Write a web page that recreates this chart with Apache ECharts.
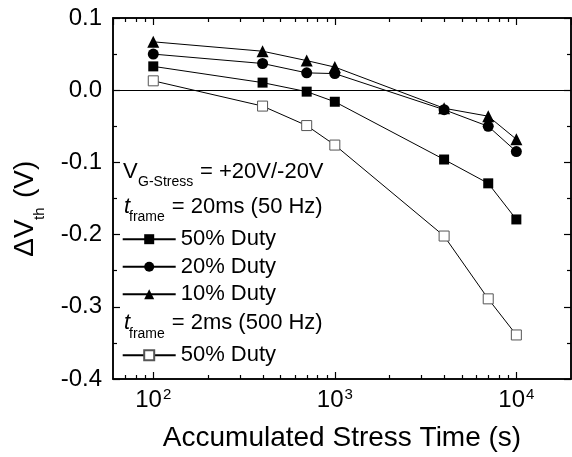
<!DOCTYPE html>
<html><head><meta charset="utf-8">
<script src="https://cdn.jsdelivr.net/npm/echarts@6/dist/echarts.min.js"></script>
<style>html,body{margin:0;padding:0;background:#fff}#c{width:572px;height:457px}</style>
</head><body><div id="c"></div>
<script>
// ---- data ----
const stressTime = [100, 400, 700, 1000, 4000, 7000, 10000];
const duty50_20ms = [0.033, 0.0105, -0.002, -0.016, -0.096, -0.129, -0.179];
const duty20_20ms = [0.050, 0.037, 0.024, 0.023, -0.027, -0.050, -0.085];
const duty10_20ms = [0.067, 0.054, 0.041, 0.032, -0.025, -0.036, -0.068];
const duty50_2ms  = [0.013, -0.022, -0.049, -0.076, -0.202, -0.289, -0.339];
const seriesNames = ['50% Duty (20ms)', '20% Duty (20ms)', '10% Duty (20ms)', '50% Duty (2ms)'];
const xMinorTicks = [70, 80, 90, 200, 300, 400, 500, 600, 700, 800, 900, 2000, 3000, 4000, 5000, 6000, 7000, 8000, 9000];
const xRange = [60, 20000];
const yRange = [-0.4, 0.1];
const yStep = 0.1;

const FF = "'Liberation Sans', Arial, sans-serif";
const chart = echarts.init(document.getElementById('c'), null, {renderer: 'canvas'});

function pairs(ys) { return stressTime.map((x, i) => [x, ys[i]]); }

const markerDefs = [
  {symbol: 'rect', size: 10, style: {color: '#000'}},
  {symbol: 'circle', size: 11, style: {color: '#000'}},
  {symbol: 'triangle', size: 12, style: {color: '#000'}},
  {symbol: 'rect', size: 10, style: {color: '#fff', borderColor: '#555', borderWidth: 1}}
];
const allData = [duty50_20ms, duty20_20ms, duty10_20ms, duty50_2ms];

const series = allData.map((ys, i) => ({
  name: seriesNames[i],
  type: 'line',
  data: pairs(ys),
  symbol: markerDefs[i].symbol,
  symbolSize: markerDefs[i].size,
  itemStyle: markerDefs[i].style,
  lineStyle: {color: '#000', width: 1},
  z: 3 + i,
  animation: false
}));
series[0].markLine = {
  silent: true, symbol: ['none', 'none'], label: {show: false},
  lineStyle: {color: '#000', type: 'solid', width: 1},
  data: [{yAxis: 0}], animation: false
};

const legendRowY = [240.7, 268.3, 295.7, 356.7];
const legends = seriesNames.map((n, i) => ({
  data: [n], left: 121.7, top: legendRowY[i] - 12.5, padding: 0,
  itemWidth: 53, itemHeight: 12.5, selectedMode: false,
  formatter: s => s.replace(/ \(.*\)$/, ''),
  textStyle: {fontSize: 22, color: '#000', fontFamily: FF}
}));

function xAxisBase(pos) {
  return {
    type: 'log', logBase: 10, min: xRange[0], max: xRange[1], position: pos,
    axisLine: {show: true, onZero: false, lineStyle: {color: '#000', width: 1.5}},
    axisTick: {show: true, inside: true, length: 7, lineStyle: {color: '#000', width: 1.2}},
    splitLine: {show: false}
  };
}
function yAxisBase(pos) {
  return {
    type: 'value', min: yRange[0], max: yRange[1], interval: yStep, position: pos,
    axisLine: {show: true, onZero: false, lineStyle: {color: '#000', width: 1.5}},
    axisTick: {show: true, inside: true, length: 7, lineStyle: {color: '#000', width: 1.2}},
    minorTick: {show: true, splitNumber: 2, length: 4, lineStyle: {color: '#000', width: 1.2}},
    splitLine: {show: false}
  };
}

const xBottom = xAxisBase('bottom');
xBottom.axisLabel = {
  margin: 8, showMinLabel: false, showMaxLabel: false,
  formatter: v => '{b|10}{s|' + Math.round(Math.log10(v)) + '}',
  rich: {
    b: {fontSize: 24, color: '#000', fontFamily: FF},
    s: {fontSize: 15, color: '#000', fontFamily: FF, verticalAlign: 'top', padding: [0, 0, 12, 1]}
  }
};
xBottom.name = 'Accumulated Stress Time (s)';
xBottom.nameLocation = 'middle';
xBottom.nameGap = 45;
xBottom.nameTextStyle = {fontSize: 28, color: '#000', fontFamily: FF};
const xTop = xAxisBase('top');
xTop.axisLabel = {show: false};

const yLeft = yAxisBase('left');
yLeft.axisLabel = {margin: 11, fontSize: 24, color: '#000', fontFamily: FF, formatter: v => v.toFixed(1)};
const yRight = yAxisBase('right');
yRight.axisLabel = {show: false};

const option = {
  animation: false,
  backgroundColor: '#fff',
  grid: {left: 113, right: 1, top: 18, bottom: 74, containLabel: false,
         show: true, borderColor: '#000', borderWidth: 1.5, backgroundColor: 'transparent'},
  legend: legends,
  xAxis: [xBottom, xTop],
  yAxis: [yLeft, yRight],
  series: series
};
chart.setOption(option);

// ---- annotations ----
function T(text, x, y, size, italic) {
  return {type: 'text', x: x, y: y, silent: true, z: 10,
    style: {text: text, fill: '#000', fontSize: size, fontFamily: FF,
      fontStyle: italic ? 'italic' : 'normal', align: 'left', verticalAlign: 'middle'}};
}
const gfx = [
  T('V', 123, 171.7, 22), T('G-Stress', 138, 181.7, 14), T('= +20V/-20V', 200, 171.7, 22),
  T('t', 124, 206.7, 22, true), T('frame', 129, 216.7, 14), T('= 20ms (50 Hz)', 171.7, 206.7, 22),
  T('t', 124, 322.7, 22, true), T('frame', 129, 334, 14), T('= 2ms (500 Hz)', 171.7, 322.7, 22),
  {type: 'group', x: 25, y: 208, rotation: Math.PI / 2, silent: true, children: [
    {type: 'text', x: -48.7, y: 0, style: {text: '\u0394V', fill: '#000', fontSize: 28, fontFamily: FF, align: 'left', verticalAlign: 'middle'}},
    {type: 'text', x: -12, y: 14.6, style: {text: 'th', fill: '#000', fontSize: 15, fontFamily: FF, align: 'left', verticalAlign: 'middle'}},
    {type: 'text', x: 10, y: 0, style: {text: '(V)', fill: '#000', fontSize: 28, fontFamily: FF, align: 'left', verticalAlign: 'middle'}}
  ]}
];
const yBot = chart.convertToPixel({yAxisIndex: 0}, yRange[0]);
const yTop = chart.convertToPixel({yAxisIndex: 0}, yRange[1]);
xMinorTicks.forEach(v => {
  const px = Math.round(chart.convertToPixel({xAxisIndex: 0}, v)) + 0.5;
  gfx.push({type: 'line', silent: true, z: 10, shape: {x1: px, y1: yBot, x2: px, y2: yBot - 4}, style: {stroke: '#000', lineWidth: 1.2}});
  gfx.push({type: 'line', silent: true, z: 10, shape: {x1: px, y1: yTop, x2: px, y2: yTop + 4}, style: {stroke: '#000', lineWidth: 1.2}});
});
chart.setOption({graphic: gfx});
</script>
</body></html>
